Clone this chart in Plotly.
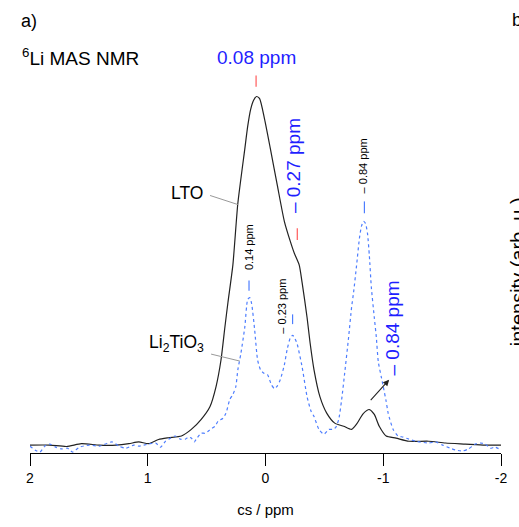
import plotly.graph_objects as go

# ---- data (chemical shift in ppm, normalised intensity) ----
lto_ppm = [2.000, 1.832, 1.689, 1.563, 1.412, 1.269, 1.160, 1.076, 0.992, 0.908, 0.824, 0.714,
           0.630, 0.546, 0.471, 0.420, 0.378, 0.345, 0.319, 0.277, 0.235, 0.176, 0.151, 0.126,
           0.101, 0.076, 0.050, 0.008, -0.042, -0.101, -0.160, -0.210, -0.244, -0.286, -0.311,
           -0.353, -0.378, -0.412, -0.462, -0.521, -0.588, -0.664, -0.731, -0.773, -0.832,
           -0.882, -0.924, -0.966, -1.025, -1.109, -1.218, -1.387, -1.529, -1.697, -1.866, -2.000]
lto_int = [0.000, 0.000, -0.004, 0.004, 0.000, 0.000, 0.004, 0.009, 0.004, 0.016, 0.021, 0.026,
           0.045, 0.074, 0.111, 0.168, 0.244, 0.338, 0.409, 0.517, 0.693, 0.849, 0.915, 0.963,
           0.989, 1.000, 0.994, 0.935, 0.849, 0.744, 0.642, 0.585, 0.551, 0.517, 0.466,
           0.366, 0.295, 0.216, 0.139, 0.091, 0.063, 0.054, 0.045, 0.060, 0.091,
           0.102, 0.088, 0.054, 0.026, 0.020, 0.011, 0.011, 0.006, 0.003, 0.000, 0.000]

lto2_ppm = [2.000, 1.958, 1.916, 1.874, 1.832, 1.782, 1.731, 1.681, 1.639, 1.580, 1.496, 1.412,
            1.303, 1.244, 1.185, 1.118, 1.076, 0.992, 0.933, 0.891, 0.849, 0.807, 0.765, 0.723,
            0.681, 0.655, 0.630, 0.605, 0.588, 0.546, 0.513, 0.487, 0.454, 0.429, 0.403, 0.361,
            0.336, 0.303, 0.277, 0.252, 0.235, 0.210, 0.176, 0.151, 0.134, 0.118, 0.092, 0.067,
            0.042, 0.017, -0.017, -0.050, -0.076, -0.101, -0.126, -0.160, -0.185, -0.210, -0.231,
            -0.252, -0.269, -0.311, -0.353, -0.387, -0.412, -0.454, -0.496, -0.538, -0.571, -0.597,
            -0.622, -0.647, -0.672, -0.706, -0.731, -0.748, -0.773, -0.798, -0.815, -0.832, -0.849,
            -0.866, -0.882, -0.899, -0.924, -0.941, -0.958, -0.983, -1.000, -1.025, -1.042, -1.084,
            -1.126, -1.168, -1.218, -1.277, -1.387, -1.445, -1.504, -1.571, -1.613, -1.672, -1.723,
            -1.782, -1.824, -1.866, -1.908, -1.950, -2.000]
lto2_int = [-0.003, -0.014, -0.020, -0.003, 0.003, -0.006, -0.011, -0.009, -0.020, -0.006, 0.000, -0.003,
            0.009, -0.003, -0.009, 0.000, -0.003, 0.003, 0.006, -0.006, 0.011, 0.020, 0.026, 0.017,
            0.017, 0.023, 0.020, 0.009, 0.017, 0.034, 0.034, 0.040, 0.048, 0.054, 0.068, 0.077,
            0.091, 0.131, 0.145, 0.168, 0.216, 0.261, 0.338, 0.418, 0.423, 0.406, 0.330, 0.244,
            0.216, 0.207, 0.202, 0.173, 0.162, 0.170, 0.188, 0.230, 0.276, 0.307, 0.315,
            0.304, 0.290, 0.224, 0.139, 0.097, 0.082, 0.045, 0.031, 0.045, 0.045, 0.051,
            0.074, 0.131, 0.205, 0.310, 0.395, 0.438, 0.514, 0.594, 0.628, 0.642, 0.636,
            0.608, 0.543, 0.452, 0.366, 0.310, 0.239, 0.196, 0.168, 0.125, 0.091, 0.045,
            0.026, 0.023, 0.017, 0.011, 0.006, 0.009, 0.000, -0.009, -0.014, -0.017, -0.011,
            0.003, 0.006, 0.003, -0.009, -0.006, -0.014]

x_ticks = [2, 1, 0, -1, -2]
x_ticklabels = ["2", "1", "0", "-1", "-2"]

lto_peaks = [0.08, -0.27]
li2tio3_peaks = [0.14, -0.23, -0.84]

FONT = "Liberation Sans, Arial, sans-serif"
BLUE_TXT = "#1f1fff"
BLUE_LINE = "#4d7dff"
RED = "#ff5a5a"

fig = go.Figure()
fig.add_trace(go.Scatter(x=lto_ppm, y=lto_int, mode="lines", name="LTO",
                         line=dict(color="#222222", width=1.2, shape="spline", smoothing=0.6)))
fig.add_trace(go.Scatter(x=lto2_ppm, y=lto2_int, mode="lines", name="Li2TiO3",
                         line=dict(color=BLUE_LINE, width=1.2, dash="dot", shape="spline", smoothing=0.6)))

shapes = []
# red peak markers (LTO)
shapes.append(dict(type="line", xref="x", yref="y", x0=lto_peaks[0], x1=lto_peaks[0], y0=1.028, y1=1.060,
                   line=dict(color=RED, width=1.2)))
shapes.append(dict(type="line", xref="x", yref="y", x0=lto_peaks[1], x1=lto_peaks[1], y0=0.588, y1=0.622,
                   line=dict(color=RED, width=1.2)))
# blue peak markers (Li2TiO3)
for xp, (y0, y1) in zip(li2tio3_peaks, [(0.443, 0.472), (0.347, 0.375), (0.665, 0.699)]):
    shapes.append(dict(type="line", xref="x", yref="y", x0=xp, x1=xp, y0=y0, y1=y1,
                       line=dict(color=BLUE_LINE, width=1.2)))
# leader lines
shapes.append(dict(type="line", xref="x", yref="y", x0=0.471, y0=0.716, x1=0.235, y1=0.690,
                   line=dict(color="#999999", width=1)))
shapes.append(dict(type="line", xref="x", yref="y", x0=0.462, y0=0.261, x1=0.218, y1=0.241,
                   line=dict(color="#999999", width=1)))

ann = []
def A(text, x, y, size, color="black", angle=0, xref="x", yref="y", xanchor="center", yanchor="middle"):
    ann.append(dict(text=text, x=x, y=y, xref=xref, yref=yref, showarrow=False, textangle=angle,
                    xanchor=xanchor, yanchor=yanchor, font=dict(family=FONT, size=size, color=color)))

A("a)", -0.002, 1.046, 18, xref="paper", yref="paper")
A("<sup>6</sup>Li MAS NMR", -0.021, 0.959, 19, xref="paper", yref="paper", xanchor="left")
A("b)", 1.019, 1.048, 18, xref="paper", yref="paper", xanchor="left")
A("intensity (arb. u.)", 1.036, 0.44, 20, angle=-90, xref="paper", yref="paper")

A("0.08 ppm", lto_peaks[0], 1.111, 19, color=BLUE_TXT)
A("– 0.27 ppm", -0.244, 0.801, 19, color=BLUE_TXT, angle=-90)
A("0.14 ppm", li2tio3_peaks[0], 0.568, 11, angle=-90)
A("– 0.23 ppm", -0.143, 0.398, 11, angle=-90)
A("– 0.84 ppm", -0.824, 0.801, 11, angle=-90)
A("– 0.84 ppm", -1.076, 0.335, 19, color=BLUE_TXT, angle=-90)
A("LTO", 0.664, 0.722, 17.5)
A("Li<sub>2</sub>TiO<sub>3</sub>", 0.756, 0.290, 17.5)

ann.append(dict(x=-1.050, y=0.1875, ax=-0.882, ay=0.125, xref="x", yref="y", axref="x", ayref="y",
                showarrow=True, arrowhead=2, arrowsize=1.1, arrowwidth=1.1, arrowcolor="#222222", text=""))

fig.update_layout(
    width=519, height=527,
    margin=dict(l=30, r=13, t=40, b=70),
    paper_bgcolor="white", plot_bgcolor="white",
    showlegend=False,
    font=dict(family=FONT, color="black"),
    shapes=shapes, annotations=ann,
    xaxis=dict(range=[2, -2], tickvals=x_ticks, ticktext=x_ticklabels,
               showline=True, linecolor="black", linewidth=1,
               ticks="outside", ticklen=12, tickwidth=1, tickcolor="black",
               showgrid=False, zeroline=False,
               tickfont=dict(family=FONT, size=14, color="black"),
               title=dict(text="cs / ppm", font=dict(family=FONT, size=15, color="black"), standoff=19)),
    yaxis=dict(range=[-0.0227, 1.162], visible=False, showgrid=False, zeroline=False),
)

fig.write_html("out.html")
